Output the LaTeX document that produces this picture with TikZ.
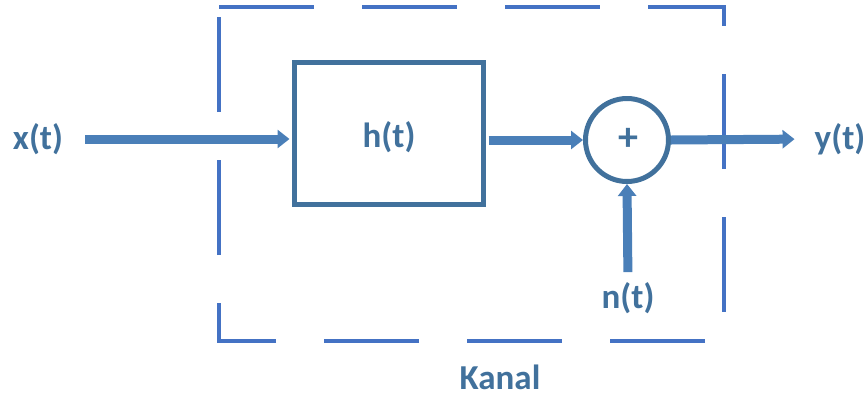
\documentclass[tikz,border=0pt]{standalone}
\usepackage{fontspec}
\setmainfont{Carlito}
\usetikzlibrary{arrows.meta}
\definecolor{dashblue}{HTML}{4472C4}
\definecolor{boxblue}{HTML}{41719C}
\definecolor{arrblue}{HTML}{4A7FB8}
\definecolor{txtblue}{HTML}{41719C}
\tikzset{
  lbl/.style={inner sep=0pt, text=txtblue, font=\fontsize{35}{40}\selectfont\bfseries},
  blockbox/.style={draw=boxblue, line width=5pt, minimum width=189pt, minimum height=142pt, inner sep=0pt},
  sumnode/.style={draw=boxblue, line width=5pt, circle, minimum size=83pt, inner sep=0pt},
  sig/.style={draw=arrblue, line width=9pt, -{Triangle[width=18pt,length=12pt]}},
  dashbox/.style={draw=dashblue, line width=4.5pt, dash pattern=on 95pt off 48pt}
}
\begin{document}
\begin{tikzpicture}[x=1pt,y=-1pt]
\useasboundingbox (0,0) rectangle (868,400);
\draw[dashbox] (219,7) -- (724,7) -- (724,341) -- (219,341) -- cycle;
\node[blockbox] (h) at (389,133.5) {};
\node[lbl] (ht) at (389,137) {h(t)};
\node[sumnode] (s) at (627,140) {};
\node[lbl, font=\fontsize{40}{44}\selectfont\bfseries] (plus) at (628,139) {+};
\node[lbl] (xt) at (38,139) {x(t)};
\node[lbl] (yt) at (840,139) {y(t)};
\node[lbl] (nt) at (628,298) {n(t)};
\node[lbl] (kanal) at (500,377) {Kanal};
\draw[sig, shorten <=22pt, shorten >=2.5pt] (xt.east) -- (xt.east -| h.west);
\draw[sig, shorten <=2.5pt] (h.east |- s.west) -- (s.west);
\draw[sig, shorten >=20pt] (s.east) -- (yt.west);
\draw[sig, shorten <=10pt] (nt.north) -- (s.south);
\end{tikzpicture}
\end{document}
